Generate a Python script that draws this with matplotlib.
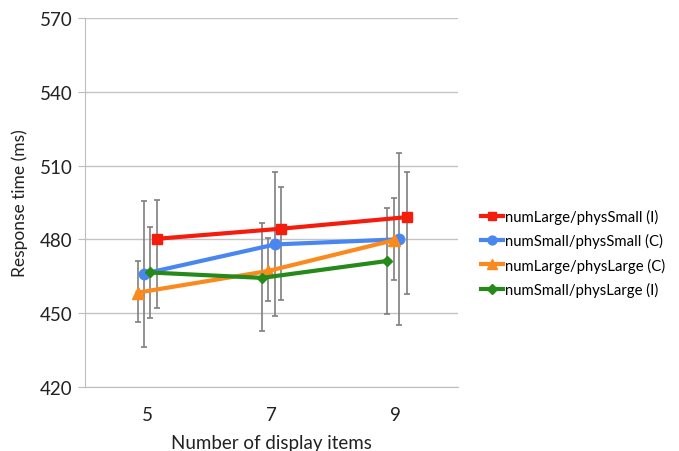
import matplotlib.pyplot as plt
import numpy as np

plt.rcParams['font.family'] = ['Lato', 'DejaVu Sans']

# categories on the x axis
items = ['5', '7', '9']

names = ['numLarge/physSmall (I)', 'numSmall/physSmall (C)',
         'numLarge/physLarge (C)', 'numSmall/physLarge (I)']

# mean response times (ms) with the lower / upper ends of the error bars
red_y = [480.2, 484.3, 489.0]
red_lo = [452.1, 455.4, 457.9]
red_hi = [495.8, 501.1, 507.5]
blue_y = [466.0, 477.9, 480.0]
blue_lo = [436.2, 449.0, 445.0]
blue_hi = [495.7, 507.2, 515.0]
orange_y = [458.3, 467.1, 479.6]
orange_lo = [446.3, 454.8, 463.3]
orange_hi = [471.2, 480.6, 496.6]
green_y = [466.5, 464.3, 471.2]
green_lo = [448.1, 442.5, 449.7]
green_hi = [485.1, 486.7, 492.8]

# small horizontal offsets of each series inside a category
red_dx = [0.08, 0.08, 0.09]
blue_dx = [-0.025, 0.03, 0.03]
orange_dx = [-0.075, -0.025, -0.015]
green_dx = [0.025, -0.075, -0.065]

fig = plt.figure(figsize=(6.79, 4.52), dpi=100)
ax = fig.add_axes([0.125, 0.142, 0.549, 0.816])

base = np.arange(len(items))
series = [
    (red_y, red_lo, red_hi, red_dx, '#f41c0c', 's', 7),
    (blue_y, blue_lo, blue_hi, blue_dx, '#4a86f0', 'o', 7.5),
    (orange_y, orange_lo, orange_hi, orange_dx, '#fb8a1e', '^', 8),
    (green_y, green_lo, green_hi, green_dx, '#268a1a', 'D', 5.5),
]
for (y, lo, hi, dx, col, mk, ms), name in zip(series, names):
    x = base + np.array(dx)
    y = np.array(y)
    err = [y - np.array(lo), np.array(hi) - y]
    ax.errorbar(x, y, yerr=err, fmt='none', ecolor='#7f7f7f', elinewidth=1.2,
                capsize=2.5, capthick=1.2, zorder=2)
    ax.plot(x, y, color=col, lw=3, marker=mk, ms=ms, label=name, zorder=3)

ax.set_xlim(-0.5, 2.5)
ax.set_ylim(420, 570)
ax.set_yticks(np.arange(420, 571, 30))
ax.set_xticks(base)
ax.set_xticklabels(items)
ax.grid(axis='y', color='#c4c4c4', lw=1)
ax.set_axisbelow(True)
for s in ['top', 'right']:
    ax.spines[s].set_visible(False)
for s in ['left', 'bottom']:
    ax.spines[s].set_color('#bdbdbd')
ax.tick_params(axis='x', length=0, labelsize=13.5, pad=14, colors='#222222')
ax.tick_params(axis='y', length=5, color='#bdbdbd', labelsize=13.5, pad=4, colors='#222222')

ax.set_xlabel('Number of display items', fontsize=13.5, color='#222222', labelpad=8)
ax.set_ylabel('Response time (ms)', fontsize=12.5, color='#222222', labelpad=8)

ax.legend(loc='center left', bbox_to_anchor=(1.027, 0.363), frameon=False,
          fontsize=10.7, handlelength=1.5, handletextpad=0.1, labelspacing=0.62,
          markerscale=0.85)

fig.savefig('out.png', dpi=100)
